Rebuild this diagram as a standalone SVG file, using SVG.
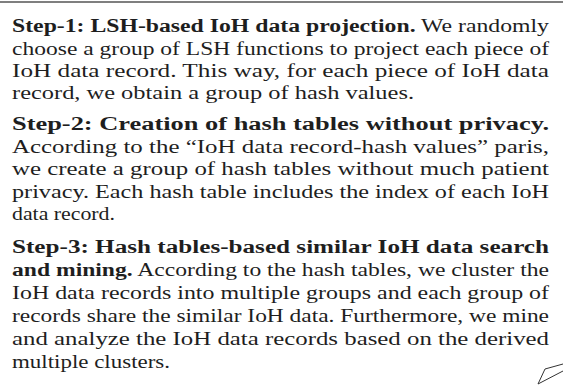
<svg xmlns="http://www.w3.org/2000/svg" width="563" height="385" viewBox="0 0 563 385">
<style>
.t{font-family:"Liberation Serif","Times New Roman",serif;font-size:18px;fill:#1e1e1e}
.b{font-weight:bold}
</style>
<rect width="563" height="385" fill="#ffffff"/>
<line x1="0" y1="2" x2="563" y2="2" stroke="#555" stroke-width="1.6"/>
<g id="step1">
<text class="t" x="12" y="32" textLength="537" lengthAdjust="spacingAndGlyphs"><tspan class="b">Step-1: LSH-based IoH data projection.</tspan> We randomly</text>
<text class="t" x="12" y="55" textLength="537" lengthAdjust="spacingAndGlyphs">choose a group of LSH functions to project each piece of</text>
<text class="t" x="12" y="77" textLength="537" lengthAdjust="spacingAndGlyphs">IoH data record. This way, for each piece of IoH data</text>
<text class="t" x="12" y="99" textLength="402" lengthAdjust="spacingAndGlyphs">record, we obtain a group of hash values.</text>
</g>
<g id="step2">
<text class="t" x="12" y="130" textLength="537" lengthAdjust="spacingAndGlyphs"><tspan class="b">Step-2: Creation of hash tables without privacy.</tspan></text>
<text class="t" x="12" y="153" textLength="537" lengthAdjust="spacingAndGlyphs">According to the “IoH data record-hash values” paris,</text>
<text class="t" x="12" y="175" textLength="537" lengthAdjust="spacingAndGlyphs">we create a group of hash tables without much patient</text>
<text class="t" x="12" y="198" textLength="537" lengthAdjust="spacingAndGlyphs">privacy. Each hash table includes the index of each IoH</text>
<text class="t" x="12" y="220" textLength="103" lengthAdjust="spacingAndGlyphs">data record.</text>
</g>
<g id="step3">
<text class="t" x="12" y="253" textLength="537" lengthAdjust="spacingAndGlyphs"><tspan class="b">Step-3: Hash tables-based similar IoH data search</tspan></text>
<text class="t" x="12" y="276" textLength="537" lengthAdjust="spacingAndGlyphs"><tspan class="b">and mining.</tspan> According to the hash tables, we cluster the</text>
<text class="t" x="12" y="299" textLength="537" lengthAdjust="spacingAndGlyphs">IoH data records into multiple groups and each group of</text>
<text class="t" x="12" y="322" textLength="537" lengthAdjust="spacingAndGlyphs">records share the similar IoH data. Furthermore, we mine</text>
<text class="t" x="12" y="345" textLength="537" lengthAdjust="spacingAndGlyphs">and analyze the IoH data records based on the derived</text>
<text class="t" x="12" y="368" textLength="158" lengthAdjust="spacingAndGlyphs">multiple clusters.</text>
</g>
<g id="corner" fill="none" stroke="#333" stroke-width="1">
<polyline points="538,384 545,369 563,364"/>
<line x1="538" y1="384" x2="563" y2="371"/>
</g>
</svg>
